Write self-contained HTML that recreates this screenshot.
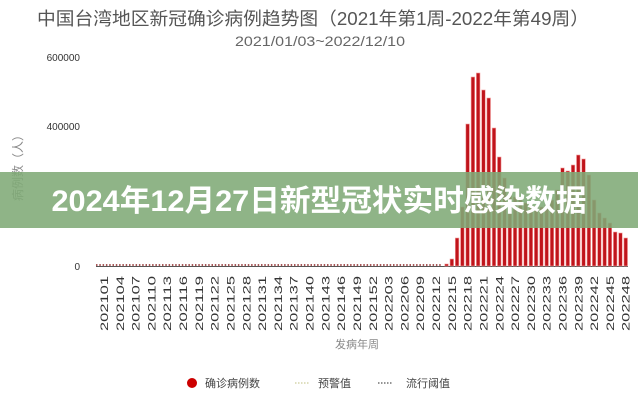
<!DOCTYPE html>
<html><head><meta charset="utf-8"><style>
html,body{margin:0;padding:0;background:#fff;}
svg{display:block;font-family:"Liberation Sans","Noto Sans CJK SC",sans-serif;}
</style></head><body>
<svg width="638" height="400" viewBox="0 0 638 400" xmlns="http://www.w3.org/2000/svg">
<rect width="638" height="400" fill="#fff"/>
<text x="313" y="25" text-anchor="middle" font-size="18" fill="#555" textLength="552" lengthAdjust="spacingAndGlyphs">中国台湾地区新冠确诊病例趋势图（2021年第1周-2022年第49周）</text>
<text x="320" y="46" text-anchor="middle" font-size="14" fill="#666" textLength="170" lengthAdjust="spacingAndGlyphs">2021/01/03~2022/12/10</text>
<g font-size="10" fill="#333" text-anchor="end">
<text x="80" y="61">600000</text>
<text x="80" y="130">400000</text>
<text x="80" y="270">0</text>
</g>
<text transform="translate(22,165) rotate(-90)" text-anchor="middle" font-size="12" fill="#888">病例数（人）</text>
<line x1="96" y1="266.5" x2="628" y2="266.5" stroke="#555" stroke-width="1"/>
<line x1="96" y1="265" x2="442" y2="265" stroke="#8a2020" stroke-width="1.5" stroke-dasharray="1.5 1.8"/>
<g fill="#c0141b" stroke="#f3a0a0" stroke-width="0.6">
<rect x="444.75" y="264" width="3.6" height="2"/>
<rect x="450.02" y="259" width="3.6" height="7"/>
<rect x="455.29" y="238" width="3.6" height="28"/>
<rect x="460.56" y="207" width="3.6" height="59"/>
<rect x="465.83" y="124" width="3.6" height="142"/>
<rect x="471.1" y="77" width="3.6" height="189"/>
<rect x="476.37" y="73" width="3.6" height="193"/>
<rect x="481.64" y="90" width="3.6" height="176"/>
<rect x="486.91" y="98" width="3.6" height="168"/>
<rect x="492.18" y="128" width="3.6" height="138"/>
<rect x="497.45" y="157" width="3.6" height="109"/>
<rect x="502.72" y="178" width="3.6" height="88"/>
<rect x="507.99" y="193" width="3.6" height="73"/>
<rect x="513.26" y="197" width="3.6" height="69"/>
<rect x="518.53" y="200" width="3.6" height="66"/>
<rect x="523.8" y="203" width="3.6" height="63"/>
<rect x="529.07" y="205" width="3.6" height="61"/>
<rect x="534.34" y="206" width="3.6" height="60"/>
<rect x="539.61" y="207" width="3.6" height="59"/>
<rect x="544.88" y="205" width="3.6" height="61"/>
<rect x="550.15" y="200" width="3.6" height="66"/>
<rect x="555.42" y="190" width="3.6" height="76"/>
<rect x="560.69" y="168" width="3.6" height="98"/>
<rect x="565.96" y="171" width="3.6" height="95"/>
<rect x="571.23" y="165" width="3.6" height="101"/>
<rect x="576.5" y="155" width="3.6" height="111"/>
<rect x="581.77" y="159" width="3.6" height="107"/>
<rect x="587.04" y="175" width="3.6" height="91"/>
<rect x="592.31" y="200" width="3.6" height="66"/>
<rect x="597.58" y="213" width="3.6" height="53"/>
<rect x="602.85" y="218" width="3.6" height="48"/>
<rect x="608.12" y="223" width="3.6" height="43"/>
<rect x="613.39" y="232" width="3.6" height="34"/>
<rect x="618.66" y="233" width="3.6" height="33"/>
<rect x="623.93" y="238" width="3.6" height="28"/>
</g>
<g font-size="11" fill="#333" text-anchor="end">
<text transform="translate(108,276) rotate(-90)" textLength="55" lengthAdjust="spacingAndGlyphs">202101</text>
<text transform="translate(123.8,276) rotate(-90)" textLength="55" lengthAdjust="spacingAndGlyphs">202104</text>
<text transform="translate(139.6,276) rotate(-90)" textLength="55" lengthAdjust="spacingAndGlyphs">202107</text>
<text transform="translate(155.4,276) rotate(-90)" textLength="55" lengthAdjust="spacingAndGlyphs">202110</text>
<text transform="translate(171.2,276) rotate(-90)" textLength="55" lengthAdjust="spacingAndGlyphs">202113</text>
<text transform="translate(187,276) rotate(-90)" textLength="55" lengthAdjust="spacingAndGlyphs">202116</text>
<text transform="translate(202.9,276) rotate(-90)" textLength="55" lengthAdjust="spacingAndGlyphs">202119</text>
<text transform="translate(218.7,276) rotate(-90)" textLength="55" lengthAdjust="spacingAndGlyphs">202122</text>
<text transform="translate(234.5,276) rotate(-90)" textLength="55" lengthAdjust="spacingAndGlyphs">202125</text>
<text transform="translate(250.3,276) rotate(-90)" textLength="55" lengthAdjust="spacingAndGlyphs">202128</text>
<text transform="translate(266.1,276) rotate(-90)" textLength="55" lengthAdjust="spacingAndGlyphs">202131</text>
<text transform="translate(281.9,276) rotate(-90)" textLength="55" lengthAdjust="spacingAndGlyphs">202134</text>
<text transform="translate(297.7,276) rotate(-90)" textLength="55" lengthAdjust="spacingAndGlyphs">202137</text>
<text transform="translate(313.5,276) rotate(-90)" textLength="55" lengthAdjust="spacingAndGlyphs">202140</text>
<text transform="translate(329.3,276) rotate(-90)" textLength="55" lengthAdjust="spacingAndGlyphs">202143</text>
<text transform="translate(345.1,276) rotate(-90)" textLength="55" lengthAdjust="spacingAndGlyphs">202146</text>
<text transform="translate(361,276) rotate(-90)" textLength="55" lengthAdjust="spacingAndGlyphs">202149</text>
<text transform="translate(376.8,276) rotate(-90)" textLength="55" lengthAdjust="spacingAndGlyphs">202152</text>
<text transform="translate(392.6,276) rotate(-90)" textLength="55" lengthAdjust="spacingAndGlyphs">202203</text>
<text transform="translate(408.4,276) rotate(-90)" textLength="55" lengthAdjust="spacingAndGlyphs">202206</text>
<text transform="translate(424.2,276) rotate(-90)" textLength="55" lengthAdjust="spacingAndGlyphs">202209</text>
<text transform="translate(440,276) rotate(-90)" textLength="55" lengthAdjust="spacingAndGlyphs">202212</text>
<text transform="translate(455.8,276) rotate(-90)" textLength="55" lengthAdjust="spacingAndGlyphs">202215</text>
<text transform="translate(471.6,276) rotate(-90)" textLength="55" lengthAdjust="spacingAndGlyphs">202218</text>
<text transform="translate(487.4,276) rotate(-90)" textLength="55" lengthAdjust="spacingAndGlyphs">202221</text>
<text transform="translate(503.3,276) rotate(-90)" textLength="55" lengthAdjust="spacingAndGlyphs">202224</text>
<text transform="translate(519.1,276) rotate(-90)" textLength="55" lengthAdjust="spacingAndGlyphs">202227</text>
<text transform="translate(534.9,276) rotate(-90)" textLength="55" lengthAdjust="spacingAndGlyphs">202230</text>
<text transform="translate(550.7,276) rotate(-90)" textLength="55" lengthAdjust="spacingAndGlyphs">202233</text>
<text transform="translate(566.5,276) rotate(-90)" textLength="55" lengthAdjust="spacingAndGlyphs">202236</text>
<text transform="translate(582.3,276) rotate(-90)" textLength="55" lengthAdjust="spacingAndGlyphs">202239</text>
<text transform="translate(598.1,276) rotate(-90)" textLength="55" lengthAdjust="spacingAndGlyphs">202242</text>
<text transform="translate(613.9,276) rotate(-90)" textLength="55" lengthAdjust="spacingAndGlyphs">202245</text>
<text transform="translate(629.7,276) rotate(-90)" textLength="55" lengthAdjust="spacingAndGlyphs">202248</text>
</g>
<text x="357" y="348" text-anchor="middle" font-size="11" fill="#888">发病年周</text>
<circle cx="192" cy="383" r="5" fill="#c00"/>
<text x="205" y="387" font-size="11" fill="#444">确诊病例数</text>
<line x1="295" y1="383" x2="310" y2="383" stroke="#cc9" stroke-width="1.2" stroke-dasharray="1.5 1.5"/>
<text x="318" y="387" font-size="11" fill="#444">预警值</text>
<line x1="378" y1="383" x2="393" y2="383" stroke="#555" stroke-width="1.2" stroke-dasharray="1.5 1.5"/>
<text x="406" y="387" font-size="11" fill="#444">流行阈值</text>
<rect x="0" y="172" width="638" height="56" fill="rgb(128,170,118)" fill-opacity="0.88"/>
<text x="319" y="211" text-anchor="middle" font-size="30" font-weight="bold" fill="#fff" textLength="535" lengthAdjust="spacingAndGlyphs">2024年12月27日新型冠状实时感染数据</text>
</svg>
</body></html>
